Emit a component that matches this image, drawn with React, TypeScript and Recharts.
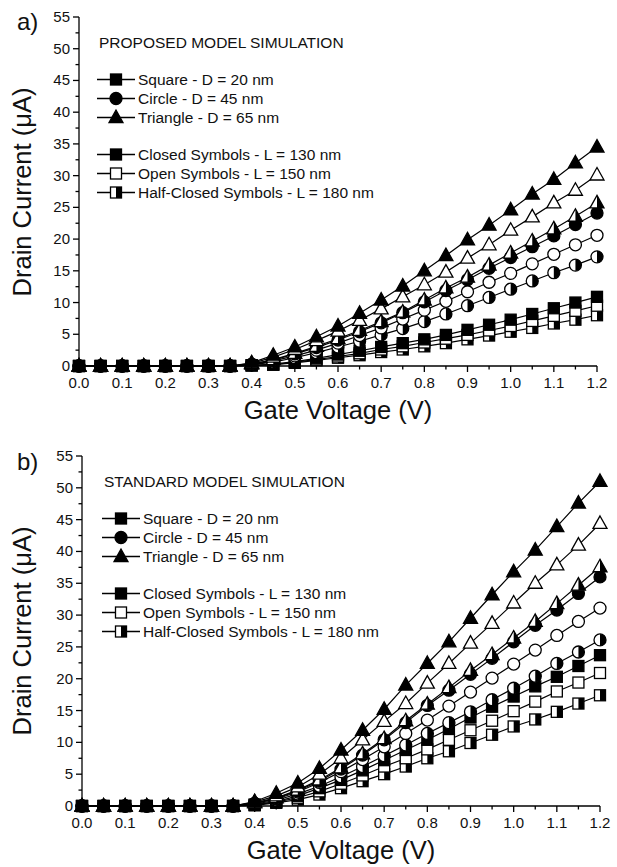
import React from 'react';
import { LineChart, Line, XAxis, YAxis, Legend } from 'recharts';

const FONT = '"Liberation Sans", Arial, Helvetica, sans-serif';

// gate voltage points (V)
const voltages = [0, 0.05, 0.1, 0.15, 0.2, 0.25, 0.3, 0.35, 0.4, 0.45, 0.5, 0.55, 0.6, 0.65, 0.7, 0.75, 0.8, 0.85, 0.9, 0.95, 1.0, 1.05, 1.1, 1.15, 1.2];
const yTicks = [0, 2.5, 5, 7.5, 10, 12.5, 15, 17.5, 20, 22.5, 25, 27.5, 30, 32.5, 35, 37.5, 40, 42.5, 45, 47.5, 50, 52.5, 55];

// a) proposed model, drain current in uA
const triClosedA = [0, 0, 0, 0, 0, 0, 0, 0, 0.5, 1.7, 3.0, 4.6, 6.3, 8.3, 10.4, 12.6, 15.0, 17.4, 19.9, 22.2, 24.6, 27.1, 29.4, 32.0, 34.5];
const triOpenA = [0, 0, 0, 0, 0, 0, 0, 0, 0.4, 1.4, 2.6, 4.0, 5.5, 7.2, 9.0, 10.9, 12.8, 14.8, 17.0, 19.1, 21.4, 23.5, 25.7, 27.7, 30.1];
const triHalfA = [0, 0, 0, 0, 0, 0, 0, 0, 0.3, 1.0, 2.0, 3.1, 4.3, 5.6, 7.0, 8.5, 10.4, 12.3, 14.0, 15.9, 17.8, 19.7, 21.6, 23.6, 25.7];
const circClosedA = [0, 0, 0, 0, 0, 0, 0, 0, 0.3, 0.9, 1.9, 2.9, 4.1, 5.4, 6.8, 8.4, 10.1, 11.9, 13.6, 15.4, 17.1, 18.8, 20.5, 22.3, 24.1];
const circOpenA = [0, 0, 0, 0, 0, 0, 0, 0, 0.2, 0.8, 1.6, 2.5, 3.6, 4.8, 6.0, 7.4, 8.8, 10.2, 11.7, 13.2, 14.6, 16.1, 17.6, 19.1, 20.6];
const circHalfA = [0, 0, 0, 0, 0, 0, 0, 0, 0.2, 0.6, 1.3, 2.1, 3.0, 3.9, 4.9, 5.9, 7.0, 8.2, 9.5, 10.8, 12.1, 13.4, 14.7, 15.9, 17.2];
const sqClosedA = [0, 0, 0, 0, 0, 0, 0, 0, 0.1, 0.3, 0.7, 1.2, 1.8, 2.4, 3.0, 3.6, 4.2, 4.9, 5.7, 6.5, 7.3, 8.2, 9.1, 10.0, 10.9];
const sqOpenA = [0, 0, 0, 0, 0, 0, 0, 0, 0.1, 0.2, 0.6, 1.0, 1.5, 2.0, 2.6, 3.1, 3.7, 4.3, 4.9, 5.6, 6.3, 7.1, 7.9, 8.7, 9.5];
const sqHalfA = [0, 0, 0, 0, 0, 0, 0, 0, 0.1, 0.2, 0.5, 0.9, 1.3, 1.7, 2.2, 2.6, 3.1, 3.6, 4.2, 4.8, 5.4, 6.0, 6.7, 7.3, 8.0];

// b) standard model
const triClosedB = [0, 0, 0, 0, 0, 0, 0, 0, 0.7, 2.0, 3.6, 5.9, 8.8, 11.9, 15.2, 19.0, 22.4, 25.8, 29.5, 33.2, 36.8, 40.2, 43.9, 47.6, 51.0];
const triOpenB = [0, 0, 0, 0, 0, 0, 0, 0, 0.6, 1.6, 3.0, 5.0, 7.5, 10.4, 13.3, 16.1, 19.3, 22.4, 25.6, 28.7, 31.9, 35.0, 37.9, 41.0, 44.4];
const triHalfB = [0, 0, 0, 0, 0, 0, 0, 0, 0.5, 1.3, 2.5, 4.1, 6.0, 8.2, 10.6, 13.4, 16.0, 18.6, 21.3, 23.8, 26.4, 29.0, 31.8, 34.7, 37.6];
const circClosedB = [0, 0, 0, 0, 0, 0, 0, 0, 0.4, 1.2, 2.4, 3.9, 5.8, 8.0, 10.4, 13.1, 15.8, 18.2, 20.7, 23.2, 25.8, 28.4, 30.8, 33.4, 36.0];
const circOpenB = [0, 0, 0, 0, 0, 0, 0, 0, 0.4, 1.1, 2.2, 3.7, 5.4, 7.3, 9.3, 11.4, 13.5, 15.7, 17.9, 20.1, 22.3, 24.5, 26.8, 29.0, 31.1];
const circHalfB = [0, 0, 0, 0, 0, 0, 0, 0, 0.3, 0.9, 1.9, 3.1, 4.6, 6.2, 7.9, 9.6, 11.4, 13.1, 14.8, 16.7, 18.5, 20.4, 22.4, 24.2, 26.1];
const sqClosedB = [0, 0, 0, 0, 0, 0, 0, 0, 0.2, 0.7, 1.6, 2.8, 4.1, 5.6, 7.2, 8.8, 10.4, 12.1, 13.9, 15.6, 17.2, 18.8, 20.3, 22.0, 23.7];
const sqOpenB = [0, 0, 0, 0, 0, 0, 0, 0, 0.2, 0.6, 1.3, 2.3, 3.5, 4.8, 6.2, 7.5, 8.9, 10.4, 11.9, 13.4, 14.9, 16.4, 18.0, 19.4, 20.9];
const sqHalfB = [0, 0, 0, 0, 0, 0, 0, 0, 0.1, 0.5, 1.0, 1.8, 2.8, 3.9, 5.0, 6.2, 7.5, 8.6, 9.9, 11.2, 12.5, 13.6, 14.8, 16.1, 17.4];

const shapeRows = [
  { label: 'Square - D = 20 nm', shape: 'square' },
  { label: 'Circle - D = 45 nm', shape: 'circle' },
  { label: 'Triangle - D = 65 nm', shape: 'triangle' },
];
const fillRows = [
  { label: 'Closed Symbols - L = 130 nm', fill: 'closed' },
  { label: 'Open Symbols - L = 150 nm', fill: 'open' },
  { label: 'Half-Closed Symbols - L = 180 nm', fill: 'half' },
];

type Shape = 'square' | 'circle' | 'triangle';
type Fill = 'closed' | 'open' | 'half';

const seriesA = [
  { key: 'sqH', values: sqHalfA, shape: 'square', fill: 'half' },
  { key: 'sqO', values: sqOpenA, shape: 'square', fill: 'open' },
  { key: 'sqC', values: sqClosedA, shape: 'square', fill: 'closed' },
  { key: 'ciH', values: circHalfA, shape: 'circle', fill: 'half' },
  { key: 'ciO', values: circOpenA, shape: 'circle', fill: 'open' },
  { key: 'ciC', values: circClosedA, shape: 'circle', fill: 'closed' },
  { key: 'trH', values: triHalfA, shape: 'triangle', fill: 'half' },
  { key: 'trO', values: triOpenA, shape: 'triangle', fill: 'open' },
  { key: 'trC', values: triClosedA, shape: 'triangle', fill: 'closed' },
];
const seriesB = [
  { key: 'sqH', values: sqHalfB, shape: 'square', fill: 'half' },
  { key: 'sqO', values: sqOpenB, shape: 'square', fill: 'open' },
  { key: 'sqC', values: sqClosedB, shape: 'square', fill: 'closed' },
  { key: 'ciH', values: circHalfB, shape: 'circle', fill: 'half' },
  { key: 'ciO', values: circOpenB, shape: 'circle', fill: 'open' },
  { key: 'ciC', values: circClosedB, shape: 'circle', fill: 'closed' },
  { key: 'trH', values: triHalfB, shape: 'triangle', fill: 'half' },
  { key: 'trO', values: triOpenB, shape: 'triangle', fill: 'open' },
  { key: 'trC', values: triClosedB, shape: 'triangle', fill: 'closed' },
];

const SW = 1.3;

const Marker = ({ cx, cy, shape, fill }: { cx: number; cy: number; shape: Shape; fill: Fill }) => {
  const base = fill === 'closed' ? '#000' : '#fff';
  if (shape === 'square') {
    const h = 5.5;
    return (
      <g>
        <rect x={cx - h} y={cy - h} width={2 * h} height={2 * h} fill={base} stroke="#000" strokeWidth={SW} />
        {fill === 'half' && <rect x={cx} y={cy - h} width={h} height={2 * h} fill="#000" />}
      </g>
    );
  }
  if (shape === 'circle') {
    const r = 6;
    return (
      <g>
        <circle cx={cx} cy={cy} r={r} fill={base} stroke="#000" strokeWidth={SW} />
        {fill === 'half' && <path d={`M${cx},${cy - r} A${r},${r} 0 0 1 ${cx},${cy + r} Z`} fill="#000" />}
      </g>
    );
  }
  const pts = `${cx},${cy - 7.5} ${cx + 7},${cy + 5} ${cx - 7},${cy + 5}`;
  return (
    <g>
      <polygon points={pts} fill={base} stroke="#000" strokeWidth={SW} strokeLinejoin="miter" />
      {fill === 'half' && <polygon points={`${cx},${cy - 7.5} ${cx + 7},${cy + 5} ${cx},${cy + 5}`} fill="#000" />}
    </g>
  );
};

const makeDot = (shape: Shape, fill: Fill) => (props: any) => {
  const { cx, cy, index } = props;
  if (cx == null || cy == null) return <g key={index} />;
  return <Marker key={index} cx={cx} cy={cy} shape={shape} fill={fill} />;
};

const isMajorX = (v: number) => Math.abs(v * 10 - Math.round(v * 10)) < 1e-6;
const isMajorY = (v: number) => Math.abs(v / 5 - Math.round(v / 5)) < 1e-6;

const BottomTick = (props: any) => {
  const { x, y, payload } = props;
  const major = isMajorX(payload.value);
  return (
    <g>
      <line x1={x} y1={y} x2={x} y2={y + (major ? 6 : 3.5)} stroke="#000" strokeWidth={SW} />
      {major && (
        <text x={x} y={y + 22} textAnchor="middle" fontSize={15} fontFamily={FONT} fill="#111">
          {payload.value.toFixed(1)}
        </text>
      )}
    </g>
  );
};

const TopTick = (props: any) => {
  const { x, y, payload } = props;
  const major = isMajorX(payload.value);
  return <line x1={x} y1={y} x2={x} y2={y + (major ? 6 : 3.5)} stroke="#000" strokeWidth={SW} />;
};

const LeftTick = (props: any) => {
  const { x, y, payload } = props;
  const major = isMajorY(payload.value);
  return (
    <g>
      <line x1={x - (major ? 6 : 3.5)} y1={y} x2={x} y2={y} stroke="#000" strokeWidth={SW} />
      {major && (
        <text x={x - 9} y={y + 5} textAnchor="end" fontSize={15} fontFamily={FONT} fill="#111">
          {payload.value}
        </text>
      )}
    </g>
  );
};

const RightTick = (props: any) => {
  const { x, y, payload } = props;
  const major = isMajorY(payload.value);
  return <line x1={x - (major ? 6 : 3.5)} y1={y} x2={x} y2={y} stroke="#000" strokeWidth={SW} />;
};

const LegendRow = ({ label, shape, fill }: { label: string; shape: Shape; fill: Fill }) => (
  <div style={{ display: 'flex', alignItems: 'center', height: 19 }}>
    <svg width={38} height={19} style={{ display: 'block' }}>
      <line x1={0} y1={9.5} x2={38} y2={9.5} stroke="#000" strokeWidth={SW} />
      <Marker cx={19} cy={9.5} shape={shape} fill={fill} />
    </svg>
    <span style={{ marginLeft: 3, whiteSpace: 'nowrap' }}>{label}</span>
  </div>
);

const LegendBox = ({ title }: { title: string }) => (
  <div style={{ fontFamily: FONT, fontSize: 15.5, color: '#111', lineHeight: '19px' }}>
    <div style={{ height: 19, marginBottom: 18, marginLeft: 2, whiteSpace: 'nowrap' }}>{title}</div>
    {shapeRows.map((r) => (
      <LegendRow key={r.label} label={r.label} shape={r.shape as Shape} fill="closed" />
    ))}
    <div style={{ height: 18 }} />
    {fillRows.map((r) => (
      <LegendRow key={r.label} label={r.label} shape="square" fill={r.fill as Fill} />
    ))}
  </div>
);

const titleStyle: React.CSSProperties = {
  position: 'absolute',
  fontFamily: FONT,
  fontSize: 25.5,
  color: '#111',
  whiteSpace: 'nowrap',
  lineHeight: '28px',
};

const Panel = ({ series, title, tag, top, height, left, right, mTop, xH, legendLeft }: any) => {
  const data = voltages.map((v, i) => {
    const row: any = { v };
    series.forEach((s: any) => {
      row[s.key] = s.values[i];
    });
    return row;
  });
  const plotTop = mTop;
  const plotBottom = height - xH;
  const midY = (plotTop + plotBottom) / 2;
  const midX = (left + (617 - right)) / 2;
  return (
    <div style={{ position: 'absolute', left: 0, top, width: 617, height }}>
      <LineChart width={617} height={height} data={data} margin={{ top: mTop, right, bottom: 0, left: 0 }}>
        <XAxis
          dataKey="v"
          type="number"
          domain={[0, 1.2]}
          ticks={voltages}
          interval={0}
          height={xH}
          tickSize={0}
          tickMargin={0}
          tick={<BottomTick />}
          axisLine={{ stroke: '#000', strokeWidth: SW }}
        />
        <XAxis
          xAxisId="top"
          orientation="top"
          dataKey="v"
          type="number"
          domain={[0, 1.2]}
          ticks={voltages}
          interval={0}
          height={0}
          tickSize={0}
          tickMargin={0}
          tick={<TopTick />}
          axisLine={{ stroke: '#000', strokeWidth: SW }}
        />
        <YAxis
          type="number"
          domain={[0, 55]}
          ticks={yTicks}
          interval={0}
          width={left}
          tickSize={0}
          tickMargin={0}
          tick={<LeftTick />}
          axisLine={{ stroke: '#000', strokeWidth: SW }}
        />
        <YAxis
          yAxisId="right"
          orientation="right"
          type="number"
          domain={[0, 55]}
          ticks={yTicks}
          interval={0}
          width={0}
          tickSize={0}
          tickMargin={0}
          tick={<RightTick />}
          axisLine={{ stroke: '#000', strokeWidth: SW }}
        />
        <Legend
          layout="vertical"
          align="center"
          verticalAlign="middle"
          content={() => <LegendBox title={title} />}
          wrapperStyle={{ top: plotTop + 16, left: legendLeft, width: 320, height: 180 }}
        />
        {series.map((s: any) => (
          <Line
            key={s.key}
            dataKey={s.key}
            type="linear"
            stroke="#000"
            strokeWidth={1.2}
            dot={makeDot(s.shape, s.fill)}
            activeDot={false}
            isAnimationActive={false}
            legendType="none"
          />
        ))}
      </LineChart>
      <div style={{ ...titleStyle, left: 17, top: 8, fontSize: 24 }}>{tag}</div>
      <div style={{ ...titleStyle, left: midX, top: plotBottom + 30, transform: 'translateX(-50%)' }}>
        Gate Voltage (V)
      </div>
      <div
        style={{
          ...titleStyle,
          left: 22,
          top: midY,
          transform: 'translate(-50%, -50%) rotate(-90deg)',
        }}
      >
        Drain Current (μA)
      </div>
    </div>
  );
};

export default function App() {
  return (
    <div style={{ position: 'absolute', left: 0, top: 0, width: 617, height: 867, background: '#fff', overflow: 'hidden' }}>
      <Panel
        series={seriesA}
        title="PROPOSED MODEL SIMULATION"
        tag="a)"
        top={0}
        height={430}
        left={79}
        right={20}
        mTop={17}
        xH={64}
        legendLeft={97}
      />
      <Panel
        series={seriesB}
        title="STANDARD MODEL SIMULATION"
        tag="b)"
        top={440}
        height={427}
        left={82}
        right={17}
        mTop={16}
        xH={61}
        legendLeft={102}
      />
    </div>
  );
}
